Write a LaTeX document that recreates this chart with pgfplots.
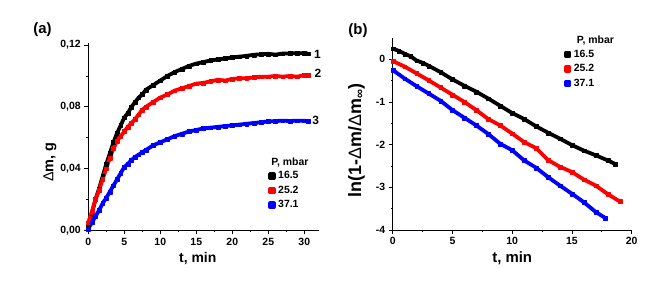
\documentclass[border=0pt]{standalone}
\usepackage{fontspec}
\setmainfont{Liberation Sans}
\usepackage{pgfplots}
\pgfplotsset{compat=1.18}
\newcommand\fs[1]{\bfseries\fontsize{#1}{#1}\selectfont}
\pgfplotsset{
 mystyle/.style={
  scale only axis,
  axis lines=left,
  axis line style={-, line width=0.9bp},
  tick align=outside,
  major tick length=4bp, minor tick length=2bp,
  tick style={black, line width=0.8bp},
  ticklabel style={font=\fs{10.5}},
  /pgf/number format/assume math mode=true,
  clip=false,
  minor x tick num=1, minor y tick num=1,
  legend style={draw=none, fill=none, inner sep=0pt, outer sep=0pt, font=\fs{10.5},
    nodes={inner sep=1bp, text height=6.8bp, text depth=1.5bp},
    /tikz/column sep=1.5bp, /tikz/row sep=4.2bp},
  legend cell align=left,
  legend image code/.code={\fill (-1.8bp,-1.8bp) rectangle (1.8bp,1.8bp);},
 },
 ser/.style={color=#1, mark=square*, mark size=1.9bp, line width=3.8bp, line join=round, mark options={solid, line width=0.2bp}},
}
\begin{document}
\begin{tikzpicture}
\path[use as bounding box] (0bp,0bp) rectangle (670bp,285bp);
\node[font=\fs{15}] at (42.5bp,255bp) {(a)};
\node[font=\fs{15}] at (358bp,254.2bp) {(b)};
\begin{axis}[mystyle, at={(88.3bp,54.7bp)}, anchor=south west,
  width=230.4bp, height=186.8bp,
  xmin=0, xmax=32, ymin=0, ymax=0.121,
  xtick={0,5,...,30}, ytick={0,0.04,0.08,0.12},
  yticklabels={{0,00},{0,04},{0,08},{0,12}},
  xlabel={t, min}, ylabel={{\mdseries Δ}m, g},
  every axis x label/.style={at={(axis cs:15.2,0)}, anchor=base, yshift=-32.5bp, font=\fs{14}},
  every axis y label/.style={at={(axis cs:-4.86,0.0442)}, rotate=90, anchor=base, font=\fs{14.5}},
  legend entries={16.5,25.2,37.1},
  legend style={at={(axis cs:25.0,0.0384)}, anchor=north west},
]
\addplot[ser=black] table {
0 0.003
0.5 0.011
1 0.020
1.5 0.027
2 0.035
2.5 0.043
3 0.050
3.5 0.057
4 0.063
4.5 0.068
5 0.073
5.5 0.076
6 0.080
6.5 0.083
7 0.086
7.5 0.088
8 0.091
9 0.094
10 0.097
11 0.100
12 0.1025
13 0.1045
14 0.1065
15 0.108
16 0.109
17 0.110
18 0.1107
19 0.1113
20 0.112
21 0.1125
22 0.113
23 0.1137
24 0.114
25 0.1143
26 0.1138
27 0.1145
28 0.1146
29 0.1147
30 0.1146
30.5 0.1145
};
\addplot[ser=red] table {
0 0.005
0.5 0.012
1 0.020
1.5 0.026
2 0.033
2.5 0.040
3 0.047
3.5 0.053
4 0.058
4.5 0.061
5 0.064
5.5 0.067
6 0.0695
6.5 0.072
7 0.075
7.5 0.078
8 0.080
9 0.083
10 0.086
11 0.088
12 0.0905
13 0.092
14 0.0935
15 0.095
16 0.0955
17 0.0965
18 0.0975
19 0.097
20 0.098
21 0.0985
22 0.0985
23 0.099
24 0.0995
25 0.0995
26 0.100
27 0.0995
28 0.100
29 0.0995
30 0.1005
30.5 0.1005
};
\addplot[ser=blue] table {
0 0.001
0.5 0.005
1 0.009
1.5 0.013
2 0.0175
2.5 0.021
3 0.025
3.5 0.029
4 0.033
4.5 0.037
5 0.041
5.5 0.043
6 0.0455
6.5 0.0475
7 0.049
7.5 0.0505
8 0.052
9 0.055
10 0.057
11 0.059
12 0.061
13 0.0625
14 0.064
15 0.065
16 0.066
17 0.0665
18 0.067
19 0.0675
20 0.068
21 0.0685
22 0.069
23 0.0695
24 0.070
25 0.0705
26 0.0708
27 0.071
28 0.0708
29 0.071
30 0.071
30.5 0.0705
};
\node[font=\fs{12}] at (axis cs:31.83,0.1141) {1};
\node[font=\fs{12}] at (axis cs:31.9,0.1014) {2};
\node[font=\fs{12}] at (axis cs:31.6,0.0713) {3};
\node[font=\fs{10.5}, anchor=west, inner sep=0pt] at (axis cs:25.4,0.0436) {P, mbar};
\end{axis}
\begin{axis}[mystyle, at={(392.7bp,55bp)}, anchor=south west,
  width=239bp, height=192bp,
  xmin=0, xmax=20, ymin=-4, ymax=0.5,
  xtick={0,5,...,20}, ytick={-4,-3,-2,-1,0},
  xlabel={t, min}, ylabel={ln(1-{\mdseries Δ}m/{\mdseries Δ}m\textsubscript{∞})},
  every axis x label/.style={at={(axis cs:10,-4)}, anchor=base, yshift=-33bp, font=\fs{15}},
  every axis y label/.style={at={(axis cs:-2.65,-1.90)}, rotate=90, anchor=base, font=\fs{18}},
  legend entries={16.5,25.2,37.1},
  legend style={at={(axis cs:14.33,0.234)}, anchor=north west},
]
\addplot[ser=black] table {
0 0.25
0.5 0.20
1 0.13
1.5 0.07
2 -0.03
2.5 -0.08
3 -0.15
4 -0.30
5 -0.47
6 -0.62
7 -0.76
8 -0.92
9 -1.09
10 -1.26
11 -1.40
12 -1.57
13 -1.72
14 -1.86
15 -2.01
16 -2.14
17 -2.25
18 -2.37
18.6 -2.45
};
\addplot[ser=red] table {
0 -0.04
1 -0.17
2 -0.33
3 -0.49
4 -0.66
5 -0.83
6 -1.00
7 -1.19
8 -1.40
9 -1.55
10 -1.74
11 -1.94
12 -2.08
13 -2.36
14 -2.52
15 -2.64
16 -2.82
17 -2.96
18 -3.16
19 -3.33
};
\addplot[ser=blue] table {
0 -0.25
1 -0.45
2 -0.63
3 -0.80
4 -0.97
5 -1.19
6 -1.37
7 -1.55
8 -1.75
9 -1.98
10 -2.13
11 -2.37
12 -2.54
13 -2.76
14 -2.96
15 -3.15
16 -3.35
17 -3.58
17.8 -3.72
};
\node[font=\fs{10.5}, anchor=west, inner sep=0pt] at (axis cs:15.40,0.452) {P, mbar};
\end{axis}
\end{tikzpicture}
\end{document}
